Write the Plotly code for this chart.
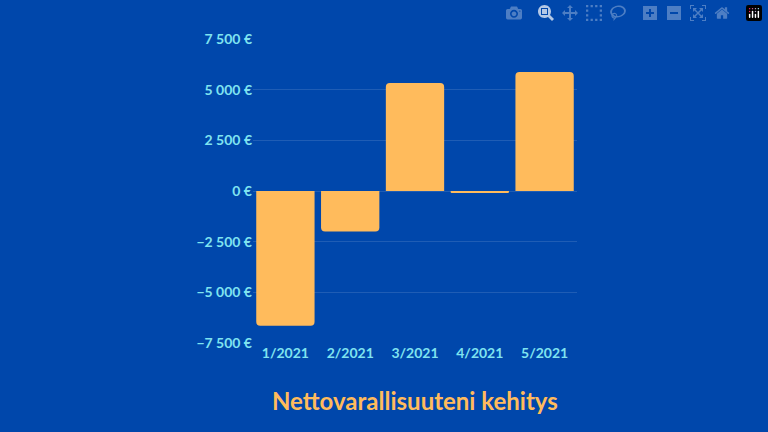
import plotly.graph_objects as go

categories = ["1/2021", "2/2021", "3/2021", "4/2021", "5/2021"]
values = [-6650, -2000, 5330, -50, 5870]
tick_vals = [-7500, -5000, -2500, 0, 2500, 5000, 7500]
tick_text = ["−7 500 €", "−5 000 €", "−2 500 €", "0 €", "2 500 €", "5 000 €", "7 500 €"]

fig = go.Figure(go.Bar(x=categories, y=values, marker=dict(color="#FFBB5C", cornerradius=4, line=dict(width=0))))
fig.update_layout(
    width=768, height=432,
    paper_bgcolor="#0047AB", plot_bgcolor="#0047AB",
    margin=dict(l=253, r=191, t=39, b=89),
    bargap=0.1,
    showlegend=False,
    font=dict(family="Lato", color="#7FE3F0", size=14),
)
fig.add_annotation(text="<b>Nettovarallisuuteni kehitys</b>", xref="paper", yref="paper", x=0.5, y=-0.245,
                   showarrow=False, font=dict(family="Lato", size=24, color="#FFBB5C"))
fig.update_yaxes(range=[-7500, 7500], tickvals=tick_vals, ticktext=tick_text,
                 gridcolor="rgba(255,255,255,0.12)", zeroline=False, ticks="",
                 tickfont=dict(family="Lato", size=14, color="#7FE3F0", weight="bold"))
fig.update_xaxes(tickfont=dict(family="Lato", size=14, color="#7FE3F0", weight="bold"), showgrid=False)
fig.write_html("out.html", post_script="document.body.style.margin='0';document.body.style.background='#0047AB';")
